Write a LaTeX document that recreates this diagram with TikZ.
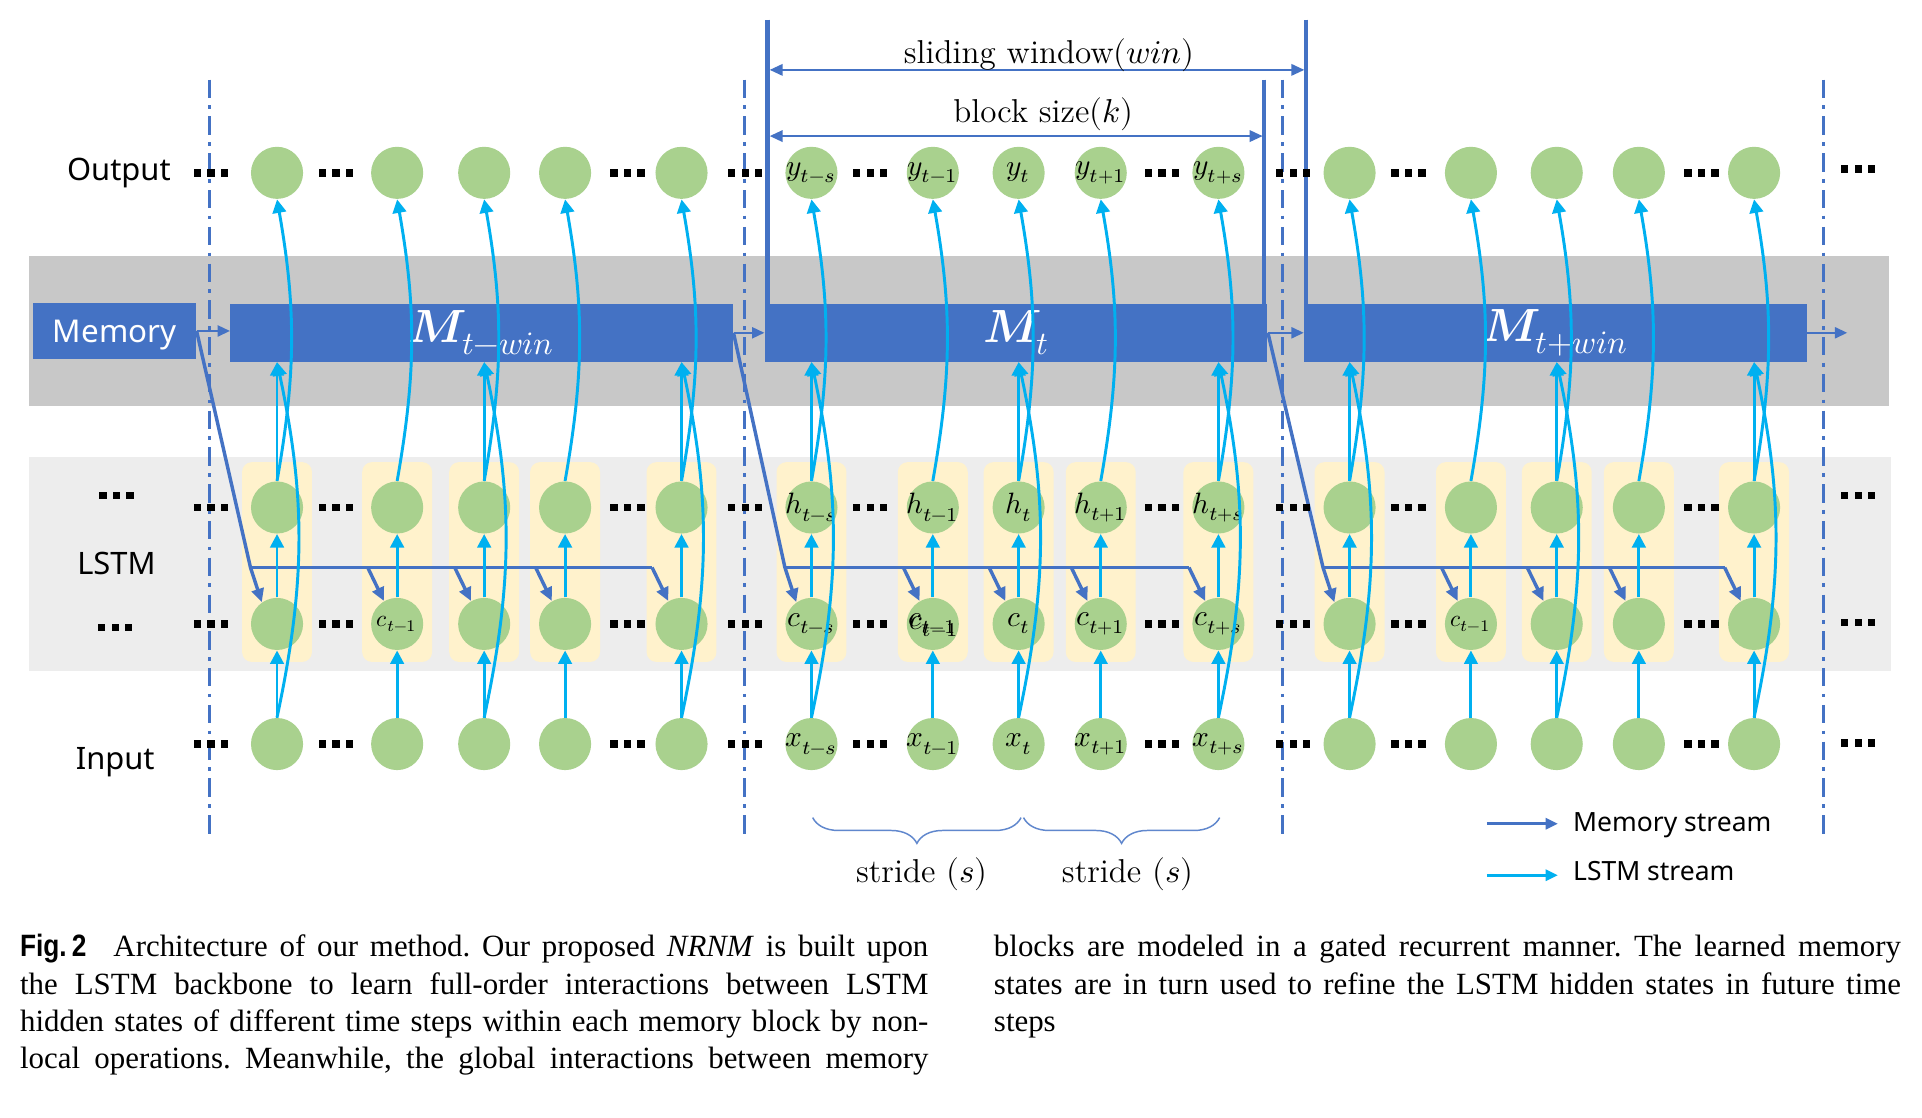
\documentclass[tikz,border=0pt]{standalone}
\usepackage{amsmath}
\usepackage{unicode-math}
\usepackage{fontspec}
\newfontfamily\uisans{Noto Sans}
\newfontfamily\capserif{Liberation Serif}
\newfontfamily\capsans[FakeStretch=0.85]{Liberation Sans}
\usetikzlibrary{arrows.meta, positioning, decorations.pathreplacing}
\frenchspacing

\definecolor{boxblue}{HTML}{4472C4}
\definecolor{lstmcyan}{HTML}{00B0F0}
\definecolor{unitgreen}{HTML}{A9D18E}
\definecolor{cellyellow}{HTML}{FFF2CC}
\definecolor{memgray}{HTML}{C8C8C8}
\definecolor{lstmgray}{HTML}{EDEDED}

\tikzset{
  unit/.style={circle, fill=unitgreen, minimum size=21.25pt, inner sep=0pt},
  unitlabel/.style={inner sep=0pt, font=\fontsize{12}{14}\selectfont},
  cell/.style={rounded corners=4pt, fill=cellyellow, minimum width=28.5pt, minimum height=81.5pt, inner sep=0pt},
  membox/.style={fill=boxblue, minimum width=205pt, minimum height=23.5pt, inner sep=0pt, text=white, font=\fontsize{19}{22}\selectfont},
  lstm/.style={draw=lstmcyan, line width=1.2pt, -{Triangle[length=5.5pt,width=5.5pt]}},
  memstream/.style={draw=boxblue, line width=1.4pt, -{Triangle[length=5.5pt,width=5pt]}},
  memline/.style={draw=boxblue, line width=1.4pt},
  memflow/.style={draw=boxblue, line width=0.8pt, -{Triangle[length=5pt,width=4.5pt]}},
  winline/.style={draw=boxblue, line width=1.95pt},
  dimarrow/.style={draw=boxblue, line width=0.6pt, {Triangle[length=5.25pt,width=4.75pt]}-{Triangle[length=5.25pt,width=4.75pt]}},
  divider/.style={draw=boxblue, line width=1.25pt, dash pattern=on 7.5pt off 3pt on 1.5pt off 3pt},
  rowlabel/.style={font=\uisans\fontsize{12.6}{15}\selectfont, anchor=base, inner sep=0pt},
  dimlabel/.style={font=\fontsize{13.5}{16}\selectfont, anchor=base, inner sep=0pt},
  legendtext/.style={font=\uisans\fontsize{10.8}{13}\selectfont, anchor=base west, inner sep=0pt},
  stridebrace/.style={draw=boxblue!85, line width=0.6pt, decorate, decoration={brace, mirror, amplitude=10.5pt}},
  capline/.style={font=\capserif\fontsize{12.6}{15}\selectfont, anchor=base west, inner sep=0pt},
  sqdots/.pic={\foreach \d in {-11,0,11} \fill[black] (\d-3,-3) rectangle (\d+3,3);}
}

\begin{document}
\begin{tikzpicture}[x=0.5pt, y=-0.5pt]
  \useasboundingbox (0,0) rectangle (1568,912);
  \fill[white] (0,0) rectangle (1568,912);
  % Bands
  \fill[memgray] (24,209) rectangle (1541,331);
  \fill[lstmgray] (24,373) rectangle (1543,547);
  % Block dividers
  \foreach \x in {171,607,1046,1488}
    \draw[divider] (\x,65) -- (\x,685);
  % Row labels
  \node[rowlabel] (outlab) at (97,147) {Output};
  \node[rowlabel] (lstmlab) at (95,469) {LSTM};
  \node[rowlabel] (inlab) at (94,628) {Input};
  % Memory boxes
  \node[membox, minimum width=66.5pt, minimum height=23pt, text depth=0pt, font=\uisans\fontsize{12.8}{15}\selectfont] (memlab) at (93.5,270) {Memory};
  \node[membox] (mprev) at (393,271.5) {$\symbfit{M}_{t-win}$};
  \node[membox] (mcur) at (829,271.5) {$\symbfit{M}_{t}$};
  \node[membox] (mnext) at (1269,271.5) {$\symbfit{M}_{t+win}$};
  \coordinate (mend) at (1507,271.5);
  \draw[memflow] (memlab.east) -- (memlab.east -| mprev.west);
  \draw[memflow] (mprev.east) -- (mcur.west);
  \draw[memflow] (mcur.east) -- (mnext.west);
  \draw[memflow] (mnext.east) -- (mend);
  % Sliding window and block size
  \coordinate (swl) at (626,16);
  \coordinate (swr) at (1065.5,16);
  \coordinate (bsr) at (1031.5,65);
  \draw[winline] (swl) -- (swl |- mcur.north);
  \draw[winline] (swr) -- (swr |- mnext.north);
  \draw[winline, line width=1.65pt] (bsr) -- (bsr |- mcur.north);
  \coordinate (sw1) at (628,57);
  \coordinate (sw2) at (1064,57);
  \coordinate (bs1) at (628,111);
  \coordinate (bs2) at (1030,111);
  \draw[dimarrow] (sw1) -- (sw2);
  \draw[dimarrow] (bs1) -- (bs2);
  \node[dimlabel] (swtext) at (856,52) {sliding window$(win)$};
  \node[dimlabel] (bstext) at (851,100) {block size$(k)$};
  % Columns
  \foreach \n/\x in {11/226,12/324,13/395,14/461,15/556,21/662,22/761,23/831,24/898,25/994,31/1101,32/1200,33/1270,34/1337,35/1431} {
    \node[cell] (cell\n) at (\x,458.5) {};
    \node[unit] (o\n) at (\x,141) {};
    \node[unit] (h\n) at (\x,414) {};
    \node[unit] (c\n) at (\x,509) {};
    \node[unit] (in\n) at (\x,607) {};
    \coordinate (br\n) at (\x-24,463);
  }
  % Labels of the current block
  \foreach \n/\s in {21/{t-s},22/{t-1},23/t,24/{t+1},25/{t+s}} {
    \node[unitlabel] (ol\n) at (o\n) {$y_{\s}$};
    \node[unitlabel] (hl\n) at (h\n) {$h_{\s}$};
    \node[unitlabel] (cl\n) at (c\n) {$c_{\s}$};
    \node[unitlabel] (il\n) at (in\n) {$x_{\s}$};
  }
  \node[unitlabel] (cl22dup) at ([shift={(0.6pt,-1pt)}]c22) {$c_{t-1}$};
  \node[unitlabel, font=\fontsize{9.5}{11}\selectfont] (cl12) at (c12) {$c_{t-1}$};
  \node[unitlabel, font=\fontsize{9.5}{11}\selectfont] (cl32) at (c32) {$c_{t-1}$};
  % Memory stream
  \coordinate (mlevel) at (0,463);
  \foreach \b/\src in {1/memlab,2/mprev,3/mcur} {
    \draw[memstream] (\src.east) -- (c\b1.west |- mlevel) -- (c\b1.125);
    \draw[memline] (c\b1.west |- mlevel) -- (br\b5);
    \foreach \k in {2,3,4,5}
      \draw[memstream] (br\b\k) -- (c\b\k.120);
  }
  % LSTM stream
  \foreach \n in {11,12,13,14,15,21,22,23,24,25,31,32,33,34,35} {
    \draw[lstm] (in\n) -- (c\n);
    \draw[lstm] (c\n) -- (h\n);
    \draw[lstm] (h\n.north) to[bend right=10] (o\n.south);
  }
  \foreach \n/\m in {11/mprev,13/mprev,15/mprev,21/mcur,23/mcur,25/mcur,31/mnext,33/mnext,35/mnext} {
    \draw[lstm] (h\n.north) -- (h\n.north |- \m.south);
    \draw[lstm] (in\n.north) to[bend right=12] (h\n.north |- \m.south);
  }
  % Dots
  \foreach \y in {141,414,509,607}
    \foreach \x in {172,274,512,608,710,948,1055,1149,1388}
      \pic at (\x,\y) {sqdots};
  \foreach \y in {138,404,508,606}
    \pic at (1516,\y) {sqdots};
  \pic at (95,404) {sqdots};
  \pic at (94,512) {sqdots};
  % Strides
  \coordinate (st1) at (663,667);
  \coordinate (st2) at (833,667);
  \coordinate (st3) at (835,667);
  \coordinate (st4) at (995,667);
  \draw[stridebrace] (st1) -- (st2);
  \draw[stridebrace] (st3) -- (st4);
  \node[dimlabel] (stl1) at (752,720) {stride $(s)$};
  \node[dimlabel] (stl2) at (920,720) {stride $(s)$};
  % Legend
  \coordinate (lgm1) at (1213,672);
  \coordinate (lgm2) at (1271,672);
  \coordinate (lgl1) at (1213,714);
  \coordinate (lgl2) at (1271,714);
  \draw[memflow, line width=1.2pt] (lgm1) -- (lgm2);
  \draw[lstm, -{Triangle[length=5pt,width=4.5pt]}] (lgl1) -- (lgl2);
  \node[legendtext] (lgmem) at (1283,678.5) {Memory stream};
  \node[legendtext] (lglstm) at (1283,718.5) {LSTM stream};
  % Caption
  \node[capline] (capl1) at (16,780.5) {\makebox[370.5pt][s]{{\capsans\bfseries Fig.\,2}\hspace{11pt}Architecture of our method. Our proposed \textit{NRNM} is built upon}};
  \node[capline] (capl2) at (16,811) {\makebox[370.5pt][s]{the LSTM backbone to learn full-order interactions between LSTM}};
  \node[capline] (capl3) at (16,841.5) {\makebox[370.5pt][s]{hidden states of different time steps within each memory block by non-}};
  \node[capline] (capl4) at (16,872) {\makebox[370.5pt][s]{local operations. Meanwhile, the global interactions between memory}};
  \node[capline] (capr1) at (810.5,780.5) {\makebox[370pt][s]{blocks are modeled in a gated recurrent manner. The learned memory}};
  \node[capline] (capr2) at (810.5,811) {\makebox[370pt][s]{states are in turn used to refine the LSTM hidden states in future time}};
  \node[capline] (capr3) at (810.5,841.5) {steps};
\end{tikzpicture}
\end{document}
